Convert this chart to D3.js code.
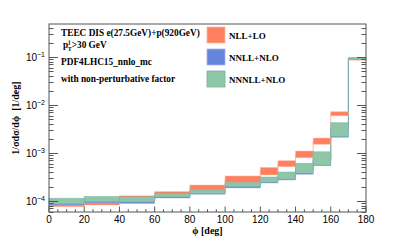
<!DOCTYPE html>
<meta charset="utf-8">
<style>
  body { margin: 0; background: #fff; }
  .tick-label { font: 10px "Liberation Sans", Arial, sans-serif; fill: #000; }
  .bold { font-family: "Liberation Serif", "Times New Roman", serif; font-weight: bold; fill: #000; white-space: pre; }
</style>
<svg width="407" height="242"></svg>
<script src="https://cdn.jsdelivr.net/npm/d3@7/dist/d3.min.js"></script>
<script>
  // bin edges in phi [deg]
  var binEdges = [0, 20, 40, 60, 80, 100, 120, 130, 140, 150, 160, 170, 180];

  // NLL+LO band
  var nllLo = [7.6e-5, 8.26e-5, 1.0e-4, 1.4e-4, 1.69e-4, 2.41e-4, 3.48e-4, 5.19e-4, 7.98e-4, 1.52e-3, 5.98e-3, 0.086];
  var nllHi = [1.0e-4, 1.05e-4, 1.28e-4, 1.57e-4, 2.15e-4, 3.32e-4, 5.0e-4, 6.92e-4, 1.10e-3, 2.05e-3, 7.24e-3, 0.091];
  // NNLL+NLO band
  var nnllLo = [8.3e-5, 9.17e-5, 8.87e-5, 1.155e-4, 1.38e-4, 1.87e-4, 2.37e-4, 2.74e-4, 3.6e-4, 5.44e-4, 2.12e-3, 0.089];
  var nnllHi = [1.0e-4, 1.1e-4, 1.1e-4, 1.35e-4, 1.6e-4, 2.3e-4, 2.9e-4, 3.6e-4, 5.2e-4, 9e-4, 3.6e-3, 0.095];
  // NNNLL+NLO band
  var n3llLo = [8.7e-5, 9.62e-5, 9.53e-5, 1.21e-4, 1.43e-4, 1.99e-4, 2.46e-4, 2.83e-4, 3.78e-4, 5.62e-4, 2.19e-3, 0.091];
  var n3llHi = [1.14e-4, 1.24e-4, 1.22e-4, 1.45e-4, 1.69e-4, 2.41e-4, 3.16e-4, 4.02e-4, 6.1e-4, 1.06e-3, 4.28e-3, 0.097];

  var xTicks = [0, 20, 40, 60, 80, 100, 120, 140, 160, 180];
  var yTicks = [1e-4, 1e-3, 1e-2, 1e-1];

  var series = [
    { name: "NLL+LO", lo: nllLo, hi: nllHi, color: "#ff8060", line: "#ffb7a4" },
    { name: "NNLL+NLO", lo: nnllLo, hi: nnllHi, color: "#6584dc", line: "#a3b4ee" },
    { name: "NNNLL+NLO", lo: n3llLo, hi: n3llHi, color: "#8dc7a7", line: "#76aea6" }
  ];

  var svg = d3.select("svg"),
    padL = 49, padR = 366, padT = 24, padB = 212;

  var x = d3.scaleLinear().domain([0, 180]).range([padL, padR]);
  var y = d3.scaleLog().domain([5.9e-5, 0.487]).range([padB, padT]);

  var plot = svg.append("g");

  // central value step lines, drawn under the bands
  series.forEach(function (s) {
    var pts = s.lo.map(function (d, i) { return [binEdges[i], Math.sqrt(d * s.hi[i])]; });
    pts.push([180, pts[pts.length - 1][1]]);
    var line = d3.line()
      .x(function (d) { return x(d[0]); })
      .y(function (d) { return y(d[1]); })
      .curve(d3.curveStepAfter);
    plot.append("path")
      .attr("d", line(pts))
      .attr("fill", "none")
      .attr("stroke", s.line)
      .attr("stroke-width", 1);
  });

  // bands
  series.forEach(function (s) {
    plot.selectAll(null)
      .data(s.lo)
      .enter().append("rect")
      .attr("x", function (d, i) { return x(binEdges[i]); })
      .attr("width", function (d, i) { return x(binEdges[i + 1]) - x(binEdges[i]); })
      .attr("y", function (d, i) { return y(s.hi[i]); })
      .attr("height", function (d, i) { return y(d) - y(s.hi[i]); })
      .attr("fill", s.color)
      .attr("stroke", s.line)
      .attr("stroke-opacity", 0.6)
      .attr("stroke-width", 0.8);
  });

  // frame
  var axisColor = "#555";
  svg.append("rect")
    .attr("x", padL).attr("y", padT)
    .attr("width", padR - padL).attr("height", padB - padT)
    .attr("fill", "none").attr("stroke", axisColor).attr("stroke-width", 1);

  // x ticks (inward)
  var xMinor = d3.range(0, 181, 5);
  svg.selectAll(null).data(xMinor).enter().append("line")
    .attr("x1", function (d) { return x(d); }).attr("x2", function (d) { return x(d); })
    .attr("y1", padB).attr("y2", function (d) { return d % 20 === 0 ? padB - 5.5 : padB - 2.8; })
    .attr("stroke", axisColor);

  svg.selectAll(null).data(xTicks).enter().append("text")
    .attr("class", "tick-label")
    .attr("x", function (d) { return x(d); })
    .attr("y", 223)
    .attr("text-anchor", "middle")
    .text(function (d) { return d; });

  // y ticks (log), left and right, inward
  var yMinor = [];
  for (var e = -5; e <= 0; e++) {
    for (var m = 1; m <= 9; m++) {
      var v = m * Math.pow(10, e);
      if (v >= 5.9e-5 && v <= 0.487) yMinor.push(v);
    }
  }
  [padL, padR].forEach(function (ax) {
    var dir = ax === padL ? 1 : -1;
    svg.selectAll(null).data(yMinor).enter().append("line")
      .attr("x1", ax)
      .attr("x2", function (d) {
        var major = Math.abs(Math.log10(d) - Math.round(Math.log10(d))) < 1e-9;
        return ax + dir * (major ? 9 : 4.5);
      })
      .attr("y1", function (d) { return Math.round(y(d)) + 0.5; })
      .attr("y2", function (d) { return Math.round(y(d)) + 0.5; })
      .attr("stroke", axisColor);
  });

  yTicks.forEach(function (d) {
    var t = svg.append("text")
      .attr("class", "tick-label")
      .attr("x", 45)
      .attr("y", y(d) + 4)
      .attr("text-anchor", "end");
    t.append("tspan").text("10");
    t.append("tspan").attr("dy", -4).attr("font-size", "7px").text("\u2212" + Math.round(-Math.log10(d)));
  });

  // axis titles
  svg.append("text")
    .attr("class", "bold")
    .attr("x", (padL + padR) / 2)
    .attr("y", 234)
    .attr("text-anchor", "middle")
    .attr("font-size", "10px")
    .text("\u03d5 [deg]");

  svg.append("text")
    .attr("class", "bold")
    .attr("transform", "translate(19,118) rotate(-90)")
    .attr("text-anchor", "middle")
    .attr("font-size", "10px")
    .text("1/\u03c3d\u03c3/d\u03d5  [1/deg]");

  // annotation text
  var info = svg.append("g").attr("class", "bold").attr("font-size", "9.3px");
  info.append("text").attr("x", 61).attr("y", 36).text("TEEC  DIS  e(27.5GeV)+p(920GeV)");
  var pt = info.append("text").attr("x", 63).attr("y", 48);
  pt.append("tspan").text("p");
  pt.append("tspan").attr("dy", -4).attr("font-size", "6px").text("j");
  pt.append("tspan").attr("dx", -2.5).attr("dy", 6.5).attr("font-size", "6px").text("T");
  pt.append("tspan").attr("dy", -2.5).text(">30 GeV");
  info.append("text").attr("x", 61).attr("y", 64.5).text("PDF4LHC15_nnlo_mc");
  info.append("text").attr("x", 61).attr("y", 82).text("with non-perturbative factor");

  // legend
  var legend = svg.append("g");
  series.forEach(function (s, i) {
    var ly = 27 + i * 22;
    legend.append("rect")
      .attr("x", 207).attr("y", ly)
      .attr("width", 18).attr("height", 16)
      .attr("fill", s.color)
      .attr("stroke", s.line).attr("stroke-width", 0.8);
    legend.append("text")
      .attr("class", "bold")
      .attr("font-size", "9px")
      .attr("x", 229).attr("y", ly + 11.5)
      .text(s.name);
  });
</script>
